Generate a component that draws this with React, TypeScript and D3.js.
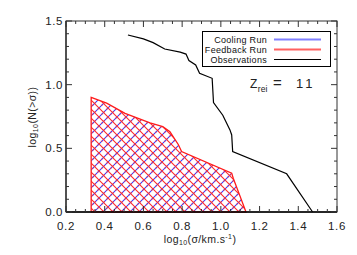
import React, { useEffect, useRef } from "react";
import * as d3 from "d3";

// cumulative velocity function, z_rei = 11
const obsSigma = [0.52, 0.6, 0.65, 0.71, 0.79, 0.82, 0.835, 0.87, 0.89, 0.955, 0.962, 1.01, 1.047, 1.056, 1.061, 1.34, 1.474];
const obsN = [1.39, 1.36, 1.33, 1.28, 1.255, 1.24, 1.19, 1.155, 1.09, 1.05, 0.86, 0.76, 0.645, 0.605, 0.475, 0.3, 0.0];

const coolSigma = [0.33, 0.41, 0.505, 0.634, 0.7, 0.737, 0.78, 0.797, 1.056, 1.064, 1.13];
const coolN = [0.9, 0.855, 0.775, 0.7, 0.67, 0.63, 0.53, 0.475, 0.305, 0.265, 0.0];

const fbSigma = [0.33, 0.41, 0.505, 0.634, 0.7, 0.737, 0.78, 0.797, 1.056, 1.064, 1.13];
const fbN = [0.9, 0.855, 0.775, 0.7, 0.67, 0.63, 0.53, 0.475, 0.305, 0.265, 0.0];

const xTicks = [0.2, 0.4, 0.6, 0.8, 1.0, 1.2, 1.4, 1.6];
const yTicks = [0.0, 0.5, 1.0, 1.5];
const legendLabels = ["Cooling Run", "Feedback Run", "Observations"];
const legendColors = ["#8080ff", "#ff6060", "#000000"];

export default function App() {
  const svgRef = useRef<SVGSVGElement>(null);

  useEffect(() => {
    const W = 357;
    const H = 255;
    const x = d3.scaleLinear().domain([0.2, 1.6]).range([66, 337]);
    const y = d3.scaleLinear().domain([0, 1.5]).range([212, 21]);

    const svg = d3.select(svgRef.current).attr("width", W).attr("height", H);
    svg.selectAll("*").remove();
    svg.append("rect").attr("width", W).attr("height", H).attr("fill", "#fff");

    const defs = svg.append("defs");
    const s = 9;
    const up = `M-2,2 L2,-2 M0,${s} L${s},0 M${s - 2},${s + 2} L${s + 2},${s - 2}`;
    const down = `M-2,${s - 2} L2,${s + 2} M0,0 L${s},${s} M${s - 2},-2 L${s + 2},2`;
    const pb = defs
      .append("pattern")
      .attr("id", "hatchBlue")
      .attr("patternUnits", "userSpaceOnUse")
      .attr("width", s)
      .attr("height", s);
    pb.append("path").attr("d", up).attr("stroke", "#3a3aff").attr("stroke-width", 1.1);
    const pr = defs
      .append("pattern")
      .attr("id", "hatchRed")
      .attr("patternUnits", "userSpaceOnUse")
      .attr("width", s)
      .attr("height", s);
    pr.append("path").attr("d", down).attr("stroke", "#ff2a2a").attr("stroke-width", 1.1);
    pr.append("path")
      .attr("d", up)
      .attr("stroke", "#ff2a2a")
      .attr("stroke-width", 1.1)
      .attr("stroke-dasharray", "1,2.5");

    const area = (sig: number[], n: number[]) => {
      const pts: [number, number][] = sig.map((v, i) => [x(v), y(n[i])]);
      pts.push([x(sig[sig.length - 1]), y(0)]);
      pts.push([x(sig[0]), y(0)]);
      return "M" + pts.map((p) => p.join(",")).join("L") + "Z";
    };

    svg.append("path").attr("d", area(coolSigma, coolN)).attr("fill", "url(#hatchBlue)");
    svg.append("path").attr("d", area(fbSigma, fbN)).attr("fill", "url(#hatchRed)");
    svg
      .append("path")
      .attr("d", area(fbSigma, fbN))
      .attr("fill", "none")
      .attr("stroke", "#ff1a1a")
      .attr("stroke-width", 1.3);

    const line = d3
      .line<number>()
      .x((d) => x(d))
      .y((d, i) => y(obsN[i]));
    svg
      .append("path")
      .attr("d", line(obsSigma))
      .attr("fill", "none")
      .attr("stroke", "#000")
      .attr("stroke-width", 1.2);

    // frame + inward ticks
    const g = svg.append("g").attr("stroke", "#333").attr("stroke-width", 1);
    g.append("rect")
      .attr("x", x(0.2))
      .attr("y", y(1.5))
      .attr("width", x(1.6) - x(0.2))
      .attr("height", y(0) - y(1.5))
      .attr("fill", "none");
    g.append("line").attr("x1", x(0.2)).attr("x2", x(1.6)).attr("y1", y(0)).attr("y2", y(0)).attr("stroke", "#000").attr("stroke-width", 1.6);
    g.append("line").attr("x1", x(0.2)).attr("x2", x(0.2)).attr("y1", y(0)).attr("y2", y(1.5)).attr("stroke", "#222").attr("stroke-width", 1.2);

    d3.range(0, 29).forEach((k) => {
      const v = 0.2 + k * 0.05;
      const len = k % 4 === 0 ? 6 : 3;
      g.append("line").attr("x1", x(v)).attr("x2", x(v)).attr("y1", y(0)).attr("y2", y(0) - len);
      g.append("line").attr("x1", x(v)).attr("x2", x(v)).attr("y1", y(1.5)).attr("y2", y(1.5) + len);
    });
    d3.range(0, 16).forEach((k) => {
      const v = k * 0.1;
      const len = k % 5 === 0 ? 6 : 3;
      g.append("line").attr("x1", x(0.2)).attr("x2", x(0.2) + len).attr("y1", y(v)).attr("y2", y(v));
      g.append("line").attr("x1", x(1.6)).attr("x2", x(1.6) - len).attr("y1", y(v)).attr("y2", y(v));
    });

    const font = "Liberation Sans, Arial, sans-serif";
    svg
      .append("g")
      .selectAll("text")
      .data(xTicks)
      .join("text")
      .attr("x", (d) => x(d))
      .attr("y", 230)
      .attr("text-anchor", "middle")
      .attr("font-family", font)
      .attr("font-size", 11.5)
      .attr("letter-spacing", 0.6)
      .attr("fill", "#222")
      .text((d) => d.toFixed(1));
    svg
      .append("g")
      .selectAll("text")
      .data(yTicks)
      .join("text")
      .attr("x", 63)
      .attr("y", (d) => y(d) + 4)
      .attr("text-anchor", "end")
      .attr("font-family", font)
      .attr("font-size", 11.5)
      .attr("letter-spacing", 0.6)
      .attr("fill", "#222")
      .text((d) => d.toFixed(1));

    const xl = svg
      .append("text")
      .attr("x", 200)
      .attr("y", 243)
      .attr("text-anchor", "middle")
      .attr("font-family", font)
      .attr("font-size", 10.5)
      .attr("letter-spacing", 0.4)
      .attr("fill", "#222");
    xl.append("tspan").text("log");
    xl.append("tspan").attr("font-size", 7).attr("dy", 2).text("10");
    xl.append("tspan").attr("dy", -2).text("(σ/km.s");
    xl.append("tspan").attr("font-size", 7).attr("dy", -4).text("-1");
    xl.append("tspan").attr("dy", 4).text(")");

    const yl = svg
      .append("text")
      .attr("transform", "translate(36,117) rotate(-90)")
      .attr("text-anchor", "middle")
      .attr("font-family", font)
      .attr("font-size", 10.5)
      .attr("letter-spacing", 0.4)
      .attr("fill", "#222");
    yl.append("tspan").text("log");
    yl.append("tspan").attr("font-size", 7).attr("dy", 2).text("10");
    yl.append("tspan").attr("dy", -2).text("(N(>σ))");

    // legend
    const lg = svg.append("g");
    lg.append("rect")
      .attr("x", 202.5)
      .attr("y", 31.5)
      .attr("width", 128)
      .attr("height", 35)
      .attr("fill", "#fff")
      .attr("stroke", "#000")
      .attr("stroke-width", 1);
    legendLabels.forEach((lab, i) => {
      const yy = 39.5 + i * 10;
      lg.append("text")
        .attr("x", 267)
        .attr("y", yy + 3)
        .attr("text-anchor", "end")
        .attr("font-family", font)
        .attr("font-size", 9)
        .attr("letter-spacing", 0.3)
        .attr("fill", "#111")
        .text(lab);
      lg.append("line")
        .attr("x1", 274)
        .attr("x2", 321)
        .attr("y1", yy)
        .attr("y2", yy)
        .attr("stroke", legendColors[i])
        .attr("stroke-width", i < 2 ? 2 : 1.2);
    });

    const zg = svg.append("g").attr("font-family", font).attr("fill", "#222");
    const zt = zg.append("text").attr("x", 250).attr("y", 88).attr("font-size", 12);
    zt.append("tspan").text("Z");
    zt.append("tspan").attr("font-size", 8.5).attr("dy", 4).attr("dx", 0.5).text("rei");
    zg.append("text").attr("x", 273).attr("y", 88).attr("font-size", 15).text("=");
    zg.append("text").attr("x", 296).attr("y", 88).attr("font-size", 13).attr("letter-spacing", 3).text("11");
  }, []);

  return <svg ref={svgRef} style={{ position: "absolute", left: 0, top: 0 }}></svg>;
}
